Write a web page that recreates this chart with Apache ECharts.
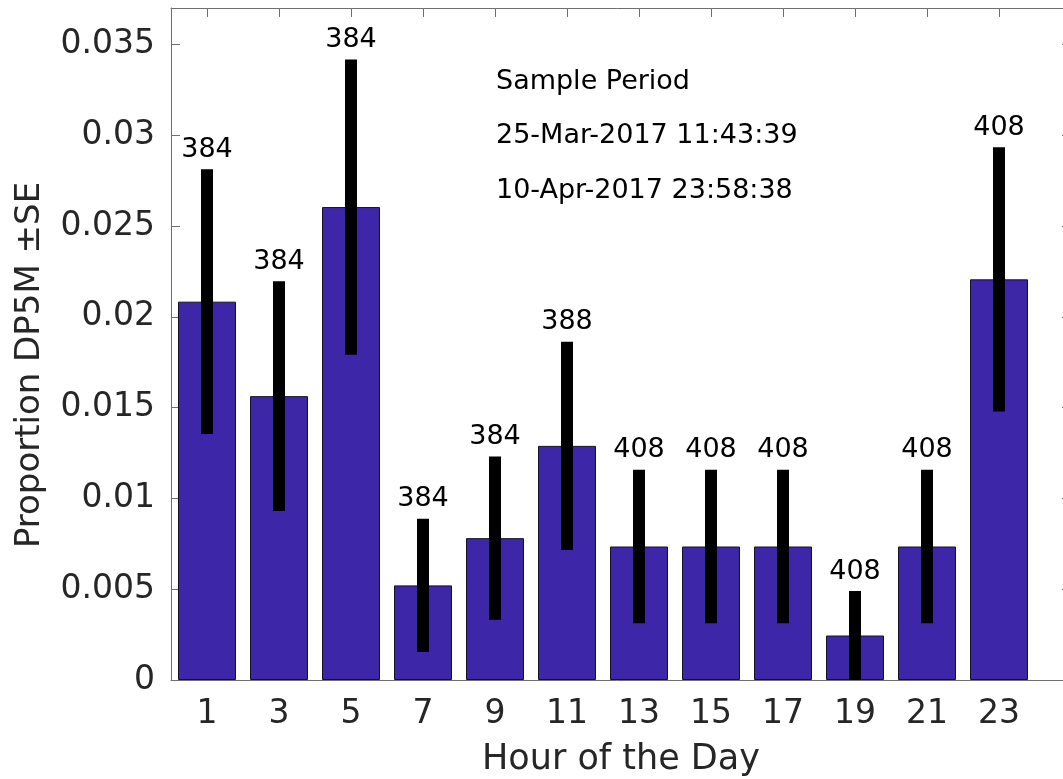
<!DOCTYPE html>
<html>
<head>
<meta charset="utf-8">
<script src="https://cdn.jsdelivr.net/npm/echarts@6/dist/echarts.min.js"></script>
<style>
  html, body { margin: 0; padding: 0; background: #ffffff; }
  #chart { width: 1063px; height: 779px; }
</style>
</head>
<body>
<div id="chart"></div>
<script>
// Hourly proportion of DP5M with standard error, and sample size per bin
const hours = [1, 3, 5, 7, 9, 11, 13, 15, 17, 19, 21, 23];
const proportion = [0.02083, 0.01563, 0.02604, 0.00521, 0.00781, 0.01289, 0.00735, 0.00735, 0.00735, 0.00245, 0.00735, 0.02206];
const stdErr = [0.00729, 0.00633, 0.00813, 0.00367, 0.00449, 0.00573, 0.00423, 0.00423, 0.00423, 0.00245, 0.00423, 0.00727];
const sampleSize = ['384', '384', '384', '384', '384', '388', '408', '408', '408', '408', '408', '408'];

const xTicks = [1, 3, 5, 7, 9, 11, 13, 15, 17, 19, 21, 23];
const yTicks = [0, 0.005, 0.01, 0.015, 0.02, 0.025, 0.03, 0.035];
const yTickLabels = ['0', '0.005', '0.01', '0.015', '0.02', '0.025', '0.03', '0.035'];

const xTitle = 'Hour of the Day';
const yTitle = 'Proportion DP5M \u00B1SE';
const periodLines = ['Sample Period', '25-Mar-2017 11:43:39', '10-Apr-2017 23:58:38'];

const FONT = 'DejaVu Sans';
const AXIS_COLOR = '#6e6e6e';
const TEXT_COLOR = '#262626';

const barData = hours.map((h, i) => [h, proportion[i]]);
const errData = hours.map((h, i) => [h, proportion[i] - stdErr[i], proportion[i] + stdErr[i], sampleSize[i]]);

function yLabel(v) {
  const idx = yTicks.findIndex(t => Math.abs(t - v) < 1e-9);
  return idx >= 0 ? yTickLabels[idx] : '';
}

const chart = echarts.init(document.getElementById('chart'), null, { renderer: 'canvas' });

const tickStyle = { show: true, inside: true, length: 9, lineStyle: { color: AXIS_COLOR, width: 1 } };

// period annotation lines plus the rotated y-axis title
const graphics = periodLines.map((t, i) => ({
  type: 'text', left: 496, top: 68 + i * 54.5, z: 10,
  style: { text: t, fill: '#000000', font: '27px "' + FONT + '"' }
}));
graphics.push({
  type: 'text', x: 30, y: 365, rotation: Math.PI / 2, z: 10,
  style: {
    text: yTitle, fill: TEXT_COLOR, font: '34px "' + FONT + '"',
    textAlign: 'center', textVerticalAlign: 'middle'
  }
});

chart.setOption({
  animation: false,
  backgroundColor: '#ffffff',
  grid: { left: 171, top: 8, width: 900, height: 672, containLabel: false, outerBoundsMode: 'none' },
  xAxis: [
    {
      type: 'value', position: 'bottom', min: 0, max: 25,
      axisLine: { show: true, onZero: false, lineStyle: { color: AXIS_COLOR, width: 1 } },
      axisTick: Object.assign({ customValues: xTicks }, tickStyle),
      axisLabel: { customValues: xTicks, color: TEXT_COLOR, fontFamily: FONT, fontSize: 33, margin: 18 },
      splitLine: { show: false },
      name: xTitle, nameLocation: 'middle', nameGap: 62,
      nameTextStyle: { color: TEXT_COLOR, fontFamily: FONT, fontSize: 35 }
    },
    {
      type: 'value', position: 'top', min: 0, max: 25,
      axisLine: { show: true, onZero: false, lineStyle: { color: AXIS_COLOR, width: 1 } },
      axisTick: Object.assign({ customValues: xTicks }, tickStyle),
      axisLabel: { show: false },
      splitLine: { show: false }
    }
  ],
  yAxis: [
    {
      type: 'value', position: 'left', min: 0, max: 0.037,
      axisLine: { show: true, onZero: false, lineStyle: { color: AXIS_COLOR, width: 1 } },
      axisTick: Object.assign({ customValues: yTicks }, tickStyle),
      axisLabel: { customValues: yTicks, formatter: yLabel, color: TEXT_COLOR, fontFamily: FONT, fontSize: 33, margin: 16 },
      splitLine: { show: false }
    },
    {
      type: 'value', position: 'right', min: 0, max: 0.037,
      axisLine: { show: true, onZero: false, lineStyle: { color: AXIS_COLOR, width: 1 } },
      axisTick: Object.assign({ customValues: yTicks }, tickStyle),
      axisLabel: { show: false },
      splitLine: { show: false }
    }
  ],
  graphic: graphics,
  series: [
    {
      type: 'bar', xAxisIndex: 0, yAxisIndex: 0,
      data: barData, barWidth: 58,
      itemStyle: { color: '#3e26a8', borderColor: '#141414', borderWidth: 1 },
      z: 2
    },
    {
      type: 'custom', xAxisIndex: 0, yAxisIndex: 0,
      data: errData, z: 3,
      renderItem: function (params, api) {
        const x = api.value(0);
        const lo = api.coord([x, Math.max(api.value(1), 0)]);
        const hi = api.coord([x, api.value(2)]);
        return {
          type: 'group',
          children: [
            {
              type: 'rect',
              shape: { x: lo[0] - 6, y: hi[1], width: 12, height: lo[1] - hi[1] },
              style: { fill: '#000000' }
            },
            {
              type: 'text',
              x: hi[0], y: hi[1] - 6,
              style: {
                text: api.value(3), fill: '#000000',
                font: '27px "' + FONT + '"',
                textAlign: 'center', textVerticalAlign: 'bottom'
              }
            }
          ]
        };
      }
    }
  ]
});
</script>
</body>
</html>
